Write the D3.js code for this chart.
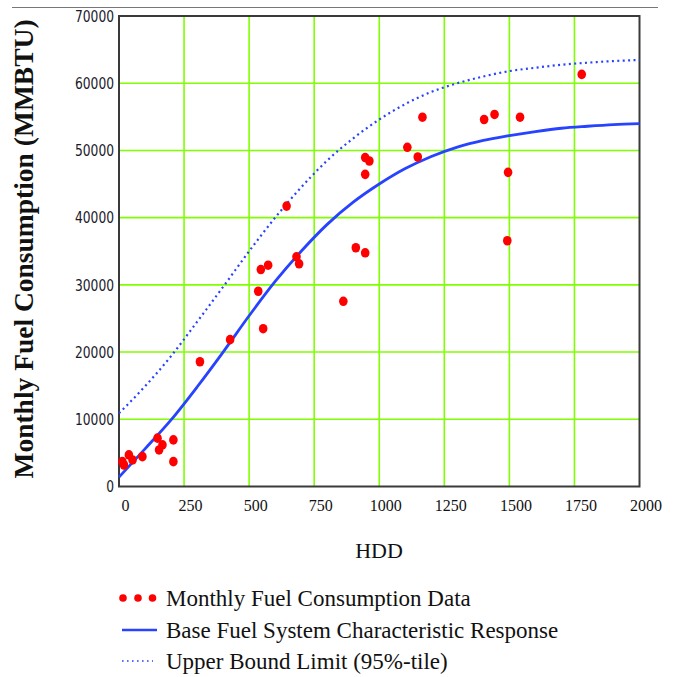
<!DOCTYPE html>
<html>
<head>
<meta charset="utf-8">
<script src="https://cdn.jsdelivr.net/npm/d3@7"></script>
<style>
    body { margin: 0; background: #fff; }
    svg { display: block; }
</style>
</head>
<body>
<div id="chart"></div>
<script>
const hddPoints = [13, 19, 38, 52, 90, 148, 154, 167, 209, 209,
    311, 427, 535, 545, 573, 554, 644, 682, 692, 862, 910, 946,
    946, 962, 946, 1108, 1148, 1166, 1403, 1443, 1541, 1495, 1492, 1778];
const fuelPoints = [3700, 3200, 4700, 3950, 4440, 7190, 5440, 6190, 6930, 3700,
    18560, 21850, 29050, 32280, 32920, 23480, 41720, 34170, 33130, 27550, 35520, 34770,
    48940, 48430, 46440, 50470, 49020, 54940, 54600, 55350, 54940, 46740, 36560, 61310];

// Fitted curves
const curveHdd = [0, 100, 200, 300, 400, 500, 600, 700, 800, 900, 1000,
    1100, 1200, 1300, 1400, 1500, 1600, 1700, 1800, 1900, 2000];
const baseFit = [1400, 5600, 9900, 14800, 20000, 25400, 30500, 35000, 39000, 42300, 45000,
    47300, 49100, 50500, 51500, 52200, 52800, 53300, 53600, 53850, 54000];
const upperBound = [10900, 14900, 19400, 24500, 29700, 35000, 40000, 44500, 48500, 51800, 54600,
    56900, 58700, 60000, 61000, 61800, 62300, 62750, 63050, 63300, 63450];

const xTicks = [0, 250, 500, 750, 1000, 1250, 1500, 1750, 2000];
const yTicks = [0, 10000, 20000, 30000, 40000, 50000, 60000, 70000];

const legendLabels = ['Monthly Fuel Consumption Data',
    'Base Fuel System Characteristic Response',
    'Upper Bound Limit (95%-tile)'];

const width = 674, height = 677;
const plot = { left: 119, right: 639.5, top: 16, bottom: 486.5 };
const serif = '"Liberation Serif", "Times New Roman", serif';
const blue = '#2843ff';
const red = '#ff0000';
const green = '#7fff00';

const svg = d3.select('#chart').append('svg')
    .attr('width', width)
    .attr('height', height)
    .attr('viewBox', `0 0 ${width} ${height}`);

const scaleX = d3.scaleLinear([0, 2000], [plot.left, plot.right]);
const scaleY = d3.scaleLinear([0, 70000], [plot.bottom, plot.top]);

// thin rule across the top of the figure
svg.append('line')
    .attr('x1', 12).attr('x2', 658)
    .attr('y1', 7.5).attr('y2', 7.5)
    .attr('stroke', '#777')
    .attr('stroke-width', 1);

// Grid lines
const grid = svg.append('g');
grid.selectAll('line.vgrid')
    .data(xTicks.slice(1, -1))
    .join('line')
    .classed('vgrid', true)
    .attr('x1', d => scaleX(d)).attr('x2', d => scaleX(d))
    .attr('y1', scaleY(0)).attr('y2', scaleY(70000))
    .attr('stroke', green)
    .attr('stroke-width', 1.6);

grid.selectAll('line.hgrid')
    .data(yTicks.slice(1, -1))
    .join('line')
    .classed('hgrid', true)
    .attr('x1', scaleX(0)).attr('x2', scaleX(2000))
    .attr('y1', d => scaleY(d)).attr('y2', d => scaleY(d))
    .attr('stroke', green)
    .attr('stroke-width', 1.6);

// Plot frame
svg.append('rect')
    .attr('x', scaleX(0))
    .attr('y', scaleY(70000))
    .attr('width', scaleX(2000) - scaleX(0))
    .attr('height', scaleY(0) - scaleY(70000))
    .attr('fill', 'none')
    .attr('stroke', '#3a3a3a')
    .attr('stroke-width', 2);

// Axes
const axisY = svg.append('g')
    .attr('transform', `translate(${plot.left},0)`)
    .call(d3.axisLeft(scaleY).tickValues(yTicks).tickSize(0).tickPadding(5).tickFormat(d3.format('d')));
axisY.select('.domain').remove();
// narrow digits, as in the original
axisY.selectAll('text')
    .attr('fill', '#1a1a2a')
    .attr('textLength', d => String(d).length * 7.8)
    .attr('lengthAdjust', 'spacingAndGlyphs')
    .style('font-family', '"DejaVu Sans Condensed", "Liberation Sans", sans-serif')
    .style('font-size', '16.5px');

const axisX = svg.append('g')
    .attr('transform', `translate(0,${plot.bottom})`)
    .call(d3.axisBottom(scaleX).tickValues(xTicks).tickSize(0).tickPadding(13).tickFormat(d3.format('d')));
axisX.select('.domain').remove();
axisX.selectAll('text')
    .attr('dx', 6)
    .attr('fill', '#111')
    .style('font-family', serif)
    .style('font-size', '16px');

// Axis titles
svg.append('text')
    .attr('x', 379)
    .attr('y', 558)
    .attr('text-anchor', 'middle')
    .style('font-family', serif)
    .style('font-size', '22px')
    .attr('fill', '#111')
    .text('HDD');

svg.append('text')
    .attr('transform', 'translate(33,249) rotate(-90)')
    .attr('text-anchor', 'middle')
    .style('font-family', serif)
    .style('font-size', '27.5px')
    .style('font-weight', 'bold')
    .attr('fill', '#111')
    .text('Monthly Fuel Consumption (MMBTU)');

// Curves
const curveRows = curveHdd.map((h, i) => ({ hdd: h, base: baseFit[i], upper: upperBound[i] }));

const lineBase = d3.line()
    .x(d => scaleX(d.hdd))
    .y(d => scaleY(d.base))
    .curve(d3.curveMonotoneX);
const lineUpper = d3.line()
    .x(d => scaleX(d.hdd))
    .y(d => scaleY(d.upper))
    .curve(d3.curveMonotoneX);

svg.append('path')
    .attr('d', lineUpper(curveRows))
    .attr('fill', 'none')
    .attr('stroke', blue)
    .attr('stroke-width', 2.2)
    .attr('stroke-dasharray', '2,3.4');

svg.append('path')
    .attr('d', lineBase(curveRows))
    .attr('fill', 'none')
    .attr('stroke', blue)
    .attr('stroke-width', 2.8);

// Data points
const points = hddPoints.map((h, i) => ({ hdd: h, fuel: fuelPoints[i] }));
svg.append('g')
    .selectAll('ellipse')
    .data(points)
    .join('ellipse')
    .attr('cx', d => scaleX(d.hdd))
    .attr('cy', d => scaleY(d.fuel))
    .attr('rx', 4.3)
    .attr('ry', 4.8)
    .attr('fill', red);

// Legend
const legend = svg.append('g');
const legendRows = [598, 630, 661];

legend.selectAll('circle')
    .data([123, 138, 152.5])
    .join('circle')
    .attr('cx', d => d)
    .attr('cy', legendRows[0])
    .attr('r', 3.8)
    .attr('fill', red);

legend.append('line')
    .attr('x1', 122).attr('x2', 157)
    .attr('y1', legendRows[1]).attr('y2', legendRows[1])
    .attr('stroke', blue)
    .attr('stroke-width', 2.5);

legend.append('line')
    .attr('x1', 122).attr('x2', 153)
    .attr('y1', legendRows[2]).attr('y2', legendRows[2])
    .attr('stroke', blue)
    .attr('stroke-width', 1.6)
    .attr('stroke-dasharray', '1.6,3.4');

legend.selectAll('text')
    .data(legendLabels)
    .join('text')
    .attr('x', 166)
    .attr('y', (d, i) => legendRows[i] + 8)
    .style('font-family', serif)
    .style('font-size', '23px')
    .attr('fill', '#111')
    .text(d => d);
</script>
</body>
</html>
